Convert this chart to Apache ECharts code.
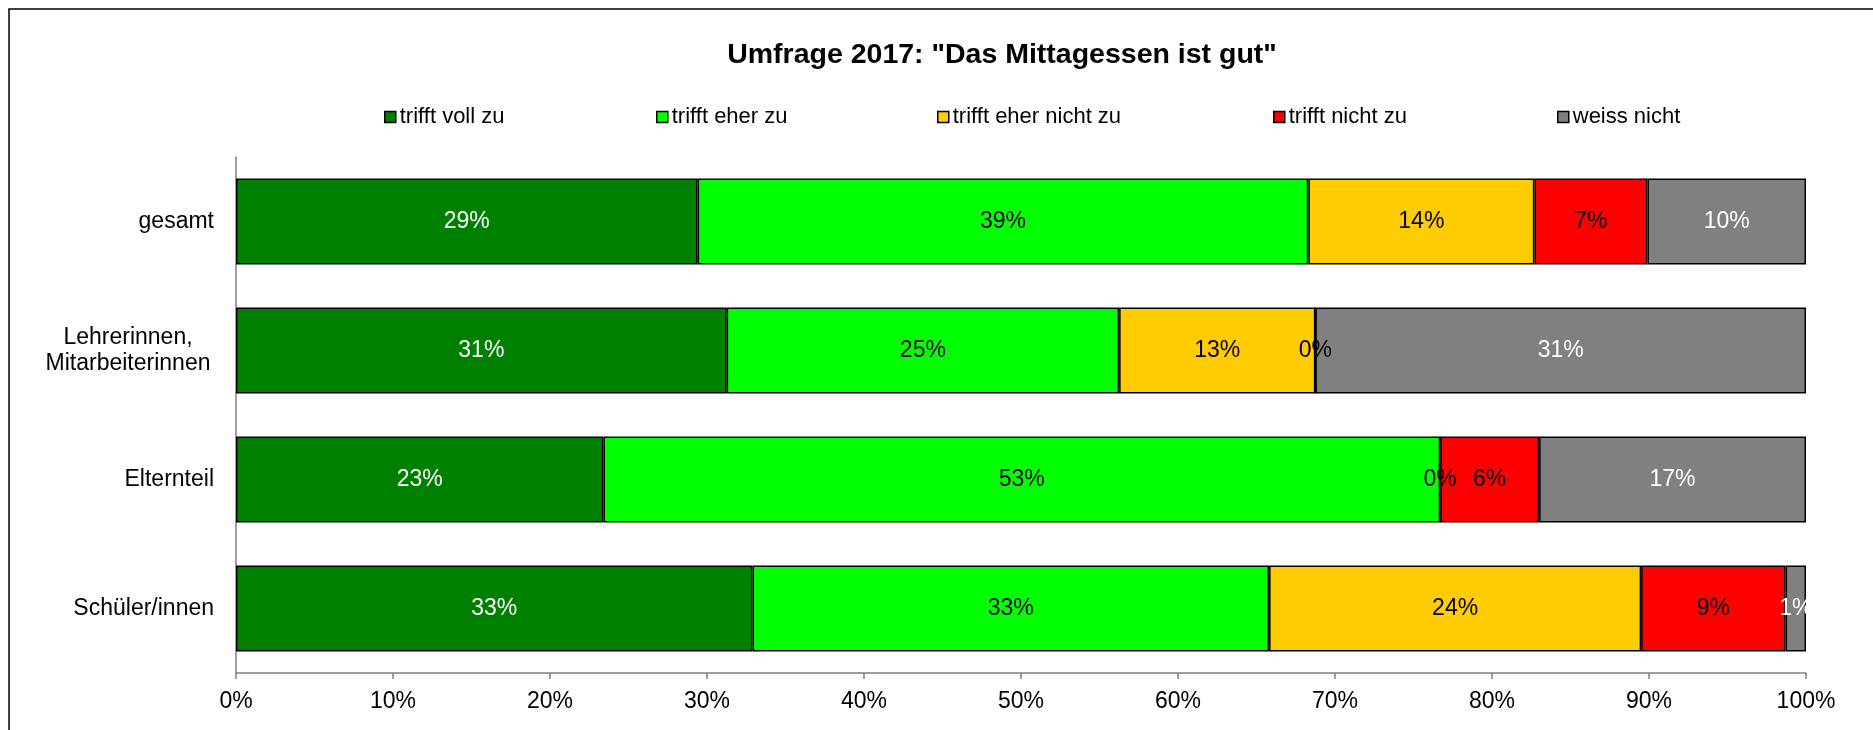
<!DOCTYPE html>
<html>
<head>
<meta charset="utf-8">
<script src="https://cdn.jsdelivr.net/npm/echarts@6/dist/echarts.min.js"></script>
<style>html,body{margin:0;padding:0;background:#fff;}#c{width:1873px;height:730px;}</style>
</head>
<body>
<div id="c"></div>
<script>
var categories = ['gesamt', 'Lehrerinnen,\nMitarbeiterinnen', 'Elternteil', 'Schüler/innen'];
var seriesNames = ['trifft voll zu', 'trifft eher zu', 'trifft eher nicht zu', 'trifft nicht zu', 'weiss nicht'];
var trifftVollZu = [29.4, 31.25, 23.4, 32.9];
var trifftEherZu = [38.9, 25.0, 53.3, 32.9];
var trifftEherNichtZu = [14.4, 12.5, 0, 23.7];
var trifftNichtZu = [7.2, 0, 6.3, 9.2];
var weissNicht = [10.1, 31.25, 17.0, 1.3];
var xTicks = [0, 10, 20, 30, 40, 50, 60, 70, 80, 90, 100];

var values = [trifftVollZu, trifftEherZu, trifftEherNichtZu, trifftNichtZu, weissNicht];
var colors = ['#008000', '#00ff00', '#ffcc00', '#ff0000', '#808080'];
var labelColors = ['#ffffff', '#000000', '#000000', '#000000', '#ffffff'];
var legendLefts = [384, 656, 937, 1273, 1557];
var FONT = '"Liberation Sans", Arial, sans-serif';

var chart = echarts.init(document.getElementById('c'), null, {renderer: 'canvas'});

var series = seriesNames.map(function (name, i) {
  return {
    name: name,
    type: 'bar',
    stack: 'total',
    barWidth: 86,
    data: values[i],
    itemStyle: {color: colors[i], borderColor: '#000', borderWidth: 1.5},
    emphasis: {disabled: true},
    label: {
      show: true,
      position: 'inside',
      color: labelColors[i],
      fontFamily: FONT,
      fontSize: 23,
      formatter: function (p) { return Math.round(p.value) + '%'; }
    }
  };
});

var legends = seriesNames.map(function (name, i) {
  return {
    data: [name],
    left: legendLefts[i],
    top: 106,
    padding: 0,
    icon: 'rect',
    itemWidth: 11,
    itemHeight: 11,
    itemGap: 0,
    selectedMode: false,
    textStyle: {fontFamily: FONT, fontSize: 22, color: '#000', padding: [0, 0, 0, -1]},
    itemStyle: {borderColor: '#000', borderWidth: 1.5}
  };
});

chart.setOption({
  animation: false,
  backgroundColor: '#fff',
  title: {
    text: 'Umfrage 2017: "Das Mittagessen ist gut"',
    left: 997,
    textAlign: 'center',
    top: 36,
    textStyle: {fontFamily: FONT, fontSize: 28.5, fontWeight: 'bold', color: '#000'}
  },
  legend: legends,
  grid: {left: 236, right: 67, top: 157, bottom: 57, containLabel: false},
  xAxis: {
    type: 'value',
    min: 0,
    max: 100,
    interval: 10,
    axisLine: {show: true, lineStyle: {color: '#808080', width: 1.5}},
    axisTick: {show: true, length: 6, lineStyle: {color: '#808080', width: 1.5}},
    splitLine: {show: false},
    axisLabel: {
      margin: 17,
      fontFamily: FONT,
      fontSize: 23,
      color: '#000',
      formatter: function (v) { return xTicks.indexOf(v) >= 0 ? v + '%' : ''; }
    }
  },
  yAxis: {
    type: 'category',
    inverse: true,
    data: categories,
    axisLine: {show: true, lineStyle: {color: '#808080', width: 1.5}},
    axisTick: {show: false},
    axisLabel: {
      margin: 22,
      fontFamily: FONT,
      fontSize: 23,
      color: '#000',
      formatter: function (v) {
        if (v.indexOf('\n') >= 0) {
          return v.split('\n').map(function (s) { return '{c|' + s + '}'; }).join('\n');
        }
        return v;
      },
      rich: {
        c: {width: 172, align: 'center', fontFamily: FONT, fontSize: 23, color: '#000', lineHeight: 26}
      }
    }
  },
  graphic: [{
    type: 'rect',
    silent: true,
    shape: {x: 9, y: 9, width: 1900, height: 800},
    style: {fill: 'none', stroke: '#000', lineWidth: 1.5}
  }],
  series: series
});
</script>
</body>
</html>
